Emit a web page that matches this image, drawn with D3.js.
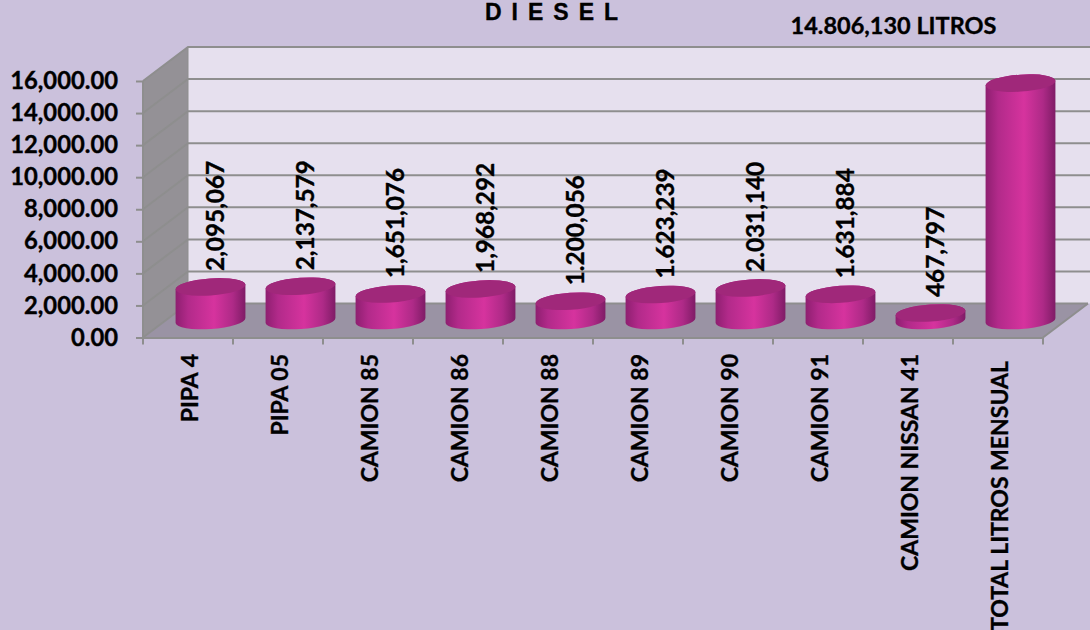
<!DOCTYPE html>
<html>
<head>
<meta charset="utf-8">
<script src="https://cdn.jsdelivr.net/npm/d3@7"></script>
<style>
  html, body { margin: 0; padding: 0; background: #cbc1dc; overflow: hidden; }
  text { fill: #000; stroke: #000; stroke-width: .35px; font-family: Lato, sans-serif; font-weight: 700; }
</style>
</head>
<body>
<div id="chart"></div>
<script>
var categories = ['PIPA 4', 'PIPA 05', 'CAMION 85', 'CAMION 86', 'CAMION 88', 'CAMION 89', 'CAMION 90', 'CAMION 91', 'CAMION NISSAN 41', 'TOTAL LITROS MENSUAL'];
var litros = [2095.067, 2137.579, 1651.076, 1968.292, 1200.056, 1623.239, 2031.140, 1631.884, 467.797, 14806.130];
var valueLabels = ['2,095,067', '2,137,579', '1,651,076', '1,968,292', '1.200,056', '1.623,239', '2.031,140', '1.631,884', '467,797', ''];
var yTicks = [0, 2000, 4000, 6000, 8000, 10000, 12000, 14000, 16000];

var width = 1090;
var height = 630;
var depthX = 45;
var depthY = -34;

var svg = d3.select('#chart')
    .append('svg')
    .attr('width', width)
    .attr('height', height);

var xScale = d3.scaleBand().domain(categories).range([143, 1043]);
var yScale = d3.scaleLinear().domain([0, 16000]).range([337.5, 81]);

var grad = svg.append('defs').append('linearGradient').attr('id', 'cyl');
grad.append('stop').attr('offset', '0%').attr('stop-color', '#8e1f70');
grad.append('stop').attr('offset', '18%').attr('stop-color', '#b22a8a');
grad.append('stop').attr('offset', '55%').attr('stop-color', '#d6339e');
grad.append('stop').attr('offset', '82%').attr('stop-color', '#ae2a87');
grad.append('stop').attr('offset', '100%').attr('stop-color', '#7f1c66');

var y0 = yScale(0);
var yTop = yScale(16000);
var x0 = xScale.range()[0];
var x1 = xScale.range()[1];

// walls and floor
svg.append('polygon')
    .attr('points', [[x0 + depthX, yTop + depthY], [1090, yTop + depthY], [1090, y0 + depthY], [x0 + depthX, y0 + depthY]].join(' '))
    .attr('fill', '#e6e0ee');
svg.append('polygon')
    .attr('points', [[x0, yTop], [x0 + depthX, yTop + depthY], [x0 + depthX, y0 + depthY], [x0, y0]].join(' '))
    .attr('fill', '#949196');
svg.append('polygon')
    .attr('points', [[x0, y0], [x0 + depthX, y0 + depthY], [x1 + depthX, y0 + depthY], [x1, y0]].join(' '))
    .attr('fill', '#9a93a4');

// gridlines on back and side wall
var grid = svg.append('g').attr('fill', 'none').attr('stroke', '#8e8e8e').attr('stroke-width', 2);
grid.selectAll('path').data(yTicks).enter().append('path')
    .attr('d', d => `M${x0},${yScale(d)}L${x0 + depthX},${yScale(d) + depthY}L${d == 0 ? x1 + depthX : 1090},${yScale(d) + depthY}`);
grid.append('path').attr('d', `M${x1},${y0}L${x1 + depthX},${y0 + depthY}`);
grid.append('path').attr('d', `M${x0 + depthX},${yTop + depthY}V${y0 + depthY}`).attr('stroke-width', 1);

// axes
var yAxis = svg.append('g').attr('transform', `translate(${x0},0)`)
    .call(d3.axisLeft(yScale).tickValues(yTicks).tickSize(7).tickFormat(d3.format(',.2f')));
yAxis.selectAll('text').attr('x', -25).style('font-size', '23.8px');

var xAxis = svg.append('g').attr('transform', `translate(0,${y0})`)
    .call(d3.axisBottom(xScale).tickSize(0).tickFormat(''));
xAxis.selectAll('.tick').remove();
xAxis.selectAll('.xtick').data(d3.range(categories.length + 1)).enter().append('line')
    .attr('class', 'xtick')
    .attr('x1', i => x0 + i * xScale.step())
    .attr('x2', i => x0 + i * xScale.step())
    .attr('y1', 0).attr('y2', 7);
svg.selectAll('.domain, .tick line, .xtick').attr('stroke', '#8e8e8e').attr('stroke-width', 2);
yAxis.select('.domain').attr('d', `M0,${yTop}V${y0}`);

svg.selectAll('.catLabel').data(categories).enter().append('text')
    .attr('class', 'catLabel')
    .attr('transform', (d, i) => `translate(${xScale(d) + xScale.bandwidth() / 2 + 10},${i == categories.length - 1 ? 361 : 354})rotate(-90)`)
    .attr('text-anchor', 'end')
    .style('font-size', '23px')
    .text(d => d);

// cylinders
var rx = 35;
var ry = 8.5;
var tilt = 4 * Math.PI / 180;
var dx = rx * Math.cos(tilt);
var dy = rx * Math.sin(tilt);

var bars = svg.selectAll('.bar').data(categories).enter().append('g').attr('class', 'bar');
bars.append('path')
    .attr('fill', 'url(#cyl)')
    .attr('d', (d, i) => {
        var cx = xScale(d) + xScale.bandwidth() / 2 + depthX / 2;
        var base = y0 + depthY / 2;
        var top = yScale(litros[i]) + depthY / 2;
        return `M${cx - dx},${top + dy}L${cx - dx},${base + dy}` +
            `A${rx},${ry} -4 0 0 ${cx + dx},${base - dy}` +
            `L${cx + dx},${top - dy}A${rx},${ry} -4 0 0 ${cx - dx},${top + dy}Z`;
    });
bars.append('ellipse')
    .attr('rx', rx).attr('ry', ry)
    .attr('fill', '#a0287a')
    .attr('transform', (d, i) => `translate(${xScale(d) + xScale.bandwidth() / 2 + depthX / 2},${yScale(litros[i]) + depthY / 2})rotate(-4)`);

svg.selectAll('.valLabel').data(categories).enter().append('text')
    .attr('class', 'valLabel')
    .attr('transform', (d, i) => `translate(${xScale(d) + xScale.bandwidth() / 2 + depthX / 2 + 13.5},${yScale(litros[i]) + depthY / 2 - 16})rotate(-90)`)
    .style('font-size', '24.3px')
    .text((d, i) => valueLabels[i]);

svg.append('text')
    .attr('x', 485).attr('y', 20)
    .style('font-family', '"Liberation Sans", Arial, sans-serif')
    .style('font-size', '23px')
    .style('letter-spacing', '1.8px')
    .text('D I E S E L');

svg.append('text')
    .attr('x', 893.5).attr('y', 34)
    .attr('text-anchor', 'middle')
    .style('font-size', '23.5px')
    .text('14.806,130 LITROS');
</script>
</body>
</html>
